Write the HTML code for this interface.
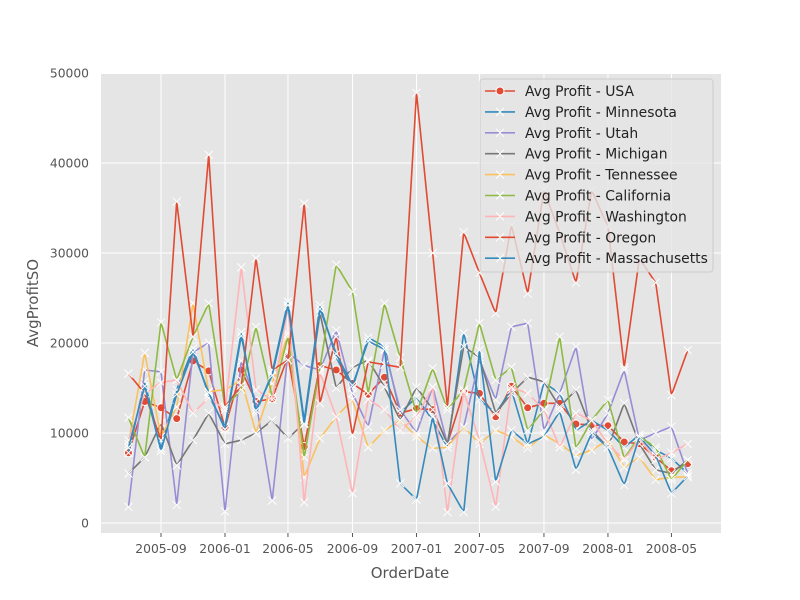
<!DOCTYPE html>
<html><head><meta charset="utf-8"><style>
body{margin:0;background:#fff;}
svg{display:block;font-family:"DejaVu Sans","Liberation Sans",sans-serif;}
</style></head><body>
<svg id="chart" width="800" height="600">
<rect x="0" y="0" width="800" height="600" fill="#fff"/>
<rect x="101" y="74" width="620" height="459" fill="#E5E5E5"/>
<g id="grid"></g><g id="ticks"></g><g id="series"></g><g id="legend"></g>
<text x="410" y="578" text-anchor="middle" font-size="15" fill="#555">OrderDate</text>
<text x="38" y="303" text-anchor="middle" font-size="15" fill="#555" transform="rotate(-90 38 303)">AvgProfitSO</text>
</svg>
<script>
const months = ["2005-07","2005-08","2005-09","2005-10","2005-11","2005-12","2006-01","2006-02","2006-03","2006-04","2006-05","2006-06","2006-07","2006-08","2006-09","2006-10","2006-11","2006-12","2007-01","2007-02","2007-03","2007-04","2007-05","2007-06","2007-07","2007-08","2007-09","2007-10","2007-11","2007-12","2008-01","2008-02","2008-03","2008-04","2008-05","2008-06"];
const xTicks = ["2005-09","2006-01","2006-05","2006-09","2007-01","2007-05","2007-09","2008-01","2008-05"];
const yTicks = [0,10000,20000,30000,40000,50000];
const seriesNames = ["Avg Profit - USA","Avg Profit - Minnesota","Avg Profit - Utah","Avg Profit - Michigan","Avg Profit - Tennessee","Avg Profit - California","Avg Profit - Washington","Avg Profit - Oregon","Avg Profit - Massachusetts"];
const usa = [7800,13500,12800,11600,18000,16900,10600,17000,13500,13800,18500,8500,17500,17000,15500,14300,16200,12200,12700,12600,8800,14600,14400,11800,15200,12800,13300,13300,11000,10900,10800,9000,8800,7300,5800,6600];
const minnesota = [7800,15700,8300,14800,19400,14200,10700,21200,12200,16700,24600,11400,24200,18400,15000,20600,19600,12200,14000,11400,8400,21100,13700,12200,14800,8700,15600,14400,10300,11400,10300,8400,9800,8100,7200,5500];
const utah = [1800,17000,16800,2000,19000,20000,1300,18000,13500,2500,18900,17500,17000,21400,14400,10700,19200,12600,10000,15100,8800,10700,18100,13700,21800,22200,10300,14400,19600,9200,12200,17000,9200,10000,10700,5500];
const michigan = [5500,7300,11100,6400,9200,12200,8800,9200,10000,11400,9400,11100,23300,15000,17300,18100,15100,11400,15100,12600,8800,19600,18400,12200,14400,16200,15700,12900,14800,10300,8400,13300,8800,5900,5500,7000];
const tennessee = [8800,18900,9600,12900,24400,14600,14800,15900,10000,15500,21000,5100,9400,11800,13700,8400,10300,11400,9600,8300,8400,10700,8800,10300,9600,8300,9800,8800,7500,8100,9200,6200,7300,4800,5100,5100];
const california = [11700,7300,22300,15900,20700,24400,12900,14800,21800,14000,20700,7300,17300,28700,25700,14400,24400,18400,12200,17200,12600,14800,22200,15900,17300,10300,12600,20700,8300,11400,13700,7200,9600,8400,4800,7000];
const washington = [9200,14400,15600,15900,12200,13900,12600,28400,14800,13700,24000,2300,16700,11800,3300,13700,12600,10300,11800,15100,1200,14600,9200,1800,15100,14400,12600,8400,12200,11400,8800,7000,9400,7000,7800,8800];
const oregon = [16600,14400,9200,35700,20700,40900,12900,15300,29400,17000,18100,35500,13300,20700,9800,17900,17600,17300,47800,30000,12900,32300,27800,23300,33100,25500,37000,32200,26700,37000,32900,17300,29400,26700,14200,19200];
const massachusetts = [8400,15200,8000,14300,19000,14500,10400,20800,12500,16400,24200,11000,23800,18800,15300,20200,19300,4400,2600,11800,4400,1200,19200,4600,10300,8800,9600,12400,5900,10000,8400,4200,9600,7500,3300,5200];
const allSeries = [usa,minnesota,utah,michigan,tennessee,california,washington,oregon,massachusetts];
const colors = ["#E24A33","#348ABD","#988ED5","#777777","#FBC15E","#8EBA42","#FFB5B8","#E24A33","#348ABD"];

const NS="http://www.w3.org/2000/svg";
const t0 = Date.UTC(2005,8,1), pxPerDay = 64/122;
function xs(m){const [y,mo]=m.split("-").map(Number);return 161+(Date.UTC(y,mo-1,1)-t0)/86400000*pxPerDay;}
function ys(v){return 523 - v*0.009;}
function mk(tag,attrs,parent){const e=document.createElementNS(NS,tag);for(const k in attrs)e.setAttribute(k,attrs[k]);parent.appendChild(e);return e;}
const grid=document.getElementById("grid"), ticks=document.getElementById("ticks"), ser=document.getElementById("series"), leg=document.getElementById("legend");
yTicks.forEach(v=>{
  const l=mk("line",{x1:101,x2:721,y1:ys(v),y2:ys(v),stroke:"#fff","stroke-width":1},grid);
  
  
  const t=mk("text",{x:89,y:ys(v)+4.5,"text-anchor":"end","font-size":12.3,fill:"#555"},ticks);
  t.textContent=v;
  
  
});
xTicks.forEach(m=>{
  const x=xs(m);
  const l=mk("line",{x1:x,x2:x,y1:74,y2:533,stroke:"#fff","stroke-width":1},grid);
  
  
  mk("line",{x1:x,x2:x,y1:533,y2:537,stroke:"#555","stroke-width":1},ticks);
  const t=mk("text",{x:x,y:553,"text-anchor":"middle","font-size":12.3,fill:"#555"},ticks);
  t.textContent=m;
  
  
});
function xMarker(g,x,y,s){mk("path",{d:`M${x-s} ${y-s}L${x+s} ${y+s}M${x-s} ${y+s}L${x+s} ${y-s}`,stroke:"#fff","stroke-width":1,fill:"none"},g);}
allSeries.forEach((data,si)=>{
  const g=mk("g",{},ser);
  
  
  const pts=data.map((v,i)=>xs(months[i]).toFixed(1)+","+ys(v).toFixed(1)).join(" ");
  mk("polyline",{points:pts,fill:"none",stroke:colors[si],"stroke-width":1.6,"stroke-linejoin":"round"},g);
  data.forEach((v,i)=>{
    if(si===0) mk("circle",{cx:xs(months[i]),cy:ys(v),r:4,fill:colors[0],stroke:"#fff","stroke-width":1},g);
    else xMarker(g,xs(months[i]),ys(v),4);
  });
});
const lb=mk("rect",{x:480,y:79,width:233,height:193,rx:3,fill:"#E5E5E5","fill-opacity":0.8,stroke:"#ccc","stroke-width":1},leg);


seriesNames.forEach((n,i)=>{
  const y=91+i*20.9;
  const g=mk("g",{},leg);
  
  
  mk("line",{x1:485,x2:515,y1:y,y2:y,stroke:colors[i],"stroke-width":1.6},g);
  if(i===0) mk("circle",{cx:500,cy:y,r:4,fill:colors[0],stroke:"#fff","stroke-width":1},g);
  else xMarker(g,500,y,4);
  const t=mk("text",{x:525,y:y+5,"font-size":13.9,fill:"#222"},g);
  t.textContent=n;
});
</script>
</body></html>
